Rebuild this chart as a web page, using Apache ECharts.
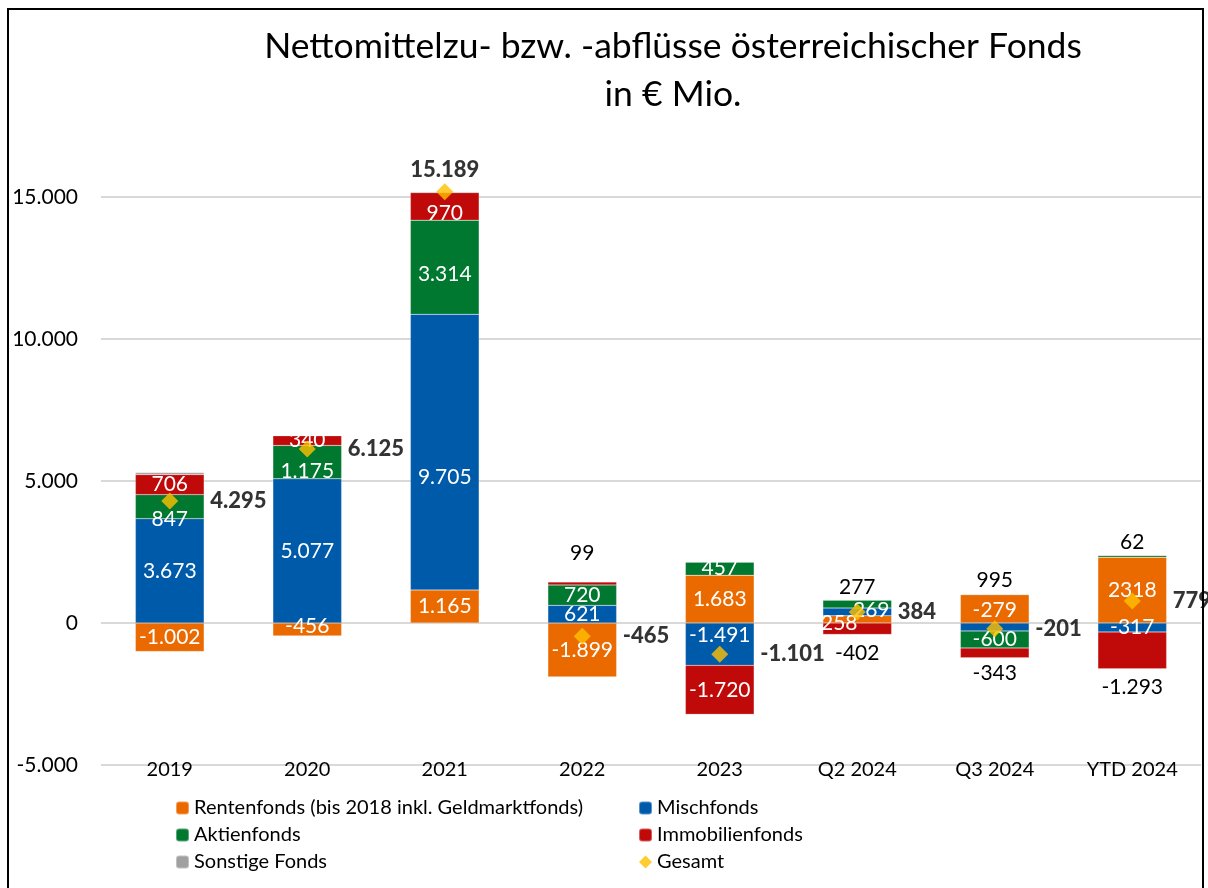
<!DOCTYPE html>
<html>
<head>
<meta charset="utf-8">
<script src="https://cdn.jsdelivr.net/npm/echarts@6/dist/echarts.min.js"></script>
<style>
  html, body { margin: 0; padding: 0; background: #fff; }
  #chart { width: 1208px; height: 888px; }
</style>
</head>
<body>
<div id="chart"></div>
<script>
const categories = ['2019', '2020', '2021', '2022', '2023', 'Q2 2024', 'Q3 2024', 'YTD 2024']
const renten = [-1002, -456, 1165, -1899, 1683, 258, 995, 2318]
const misch = [3673, 5077, 9705, 621, -1491, 269, -279, -317]
const aktien = [847, 1175, 3314, 720, 457, 277, -600, 62]
const immo = [706, 340, 970, 99, -1720, -402, -343, -1293]
const sonstige = [71, -11, 35, -6, -30, -18, 26, 9]
const gesamt = [4295, 6125, 15189, -465, -1101, 384, -201, 779]
const yTicks = { min: -5000, max: 15000, step: 5000 }

const FONT = 'Lato'

// German number format: 1.002
function fmt(v) {
  const s = String(Math.abs(v)).replace(/\B(?=(\d{3})+(?!\d))/g, '.')
  return (v < 0 ? '-' : '') + s
}

// label placement tweaks per item (mirrors manual placement in the source chart)
const outside = (position, distance) => ({ position, distance, color: '#000' })
const tweaks = {
  renten: { 1: { offset: [0, -3] }, 5: { offset: [-18, 4] }, 6: outside('top', 4), 7: { raw: true } },
  misch: { 2: { offset: [0, 25] }, 4: { offset: [0, -9] }, 5: { offset: [14, -2] }, 6: { offset: [0, -17] } },
  aktien: { 0: { offset: [0, 13] }, 1: { offset: [0, 9] }, 2: { offset: [0, 7] }, 5: outside('top', 2), 7: outside('top', 3) },
  immo: { 2: { offset: [0, 7] }, 3: outside('top', 18), 5: outside('bottom', 8), 6: outside('bottom', 5), 7: outside('bottom', 8) },
}

function items(values, tw) {
  return values.map((v, i) => {
    const t = (tw && tw[i]) || {}
    const { raw, ...rest } = t
    return {
      value: v,
      label: { formatter: raw ? String(v) : fmt(v), ...rest },
    }
  })
}

function barSeries(name, color, values, tw, showLabel = true) {
  return {
    name,
    type: 'bar',
    stack: 'total',
    barWidth: '50%',
    clip: false,
    itemStyle: { color, borderColor: 'rgba(255,255,255,0.35)', borderWidth: 0.5 },
    label: {
      show: showLabel,
      position: 'inside',
      color: '#fff',
      fontFamily: FONT,
      fontSize: 21,
    },
    data: items(values, tw),
  }
}

const chart = echarts.init(document.getElementById('chart'))
chart.setOption({
  animation: false,
  textStyle: { fontFamily: FONT },
  graphic: [
    {
      type: 'rect',
      shape: { x: 8, y: 9, width: 1195, height: 900 },
      style: { fill: 'none', stroke: '#000', lineWidth: 2 },
    },
    {
      type: 'text',
      x: 673,
      y: 47,
      style: {
        text: 'Nettomittelzu- bzw. -abflüsse österreichischer Fonds',
        font: '35.5px ' + FONT,
        fill: '#000',
        textAlign: 'center',
        textVerticalAlign: 'middle',
      },
    },
    {
      type: 'text',
      x: 673,
      y: 95,
      style: {
        text: 'in € Mio.',
        font: '35.5px ' + FONT,
        fill: '#000',
        textAlign: 'center',
        textVerticalAlign: 'middle',
      },
    },
  ],
  grid: { left: 101, right: 7, top: 197, bottom: 123 },
  legend: [
    {
      left: 170,
      top: 793,
      orient: 'vertical',
      itemWidth: 13,
      itemHeight: 13,
      itemGap: 7,
      textStyle: { fontSize: 20, color: '#000', fontFamily: FONT },
      data: ['Rentenfonds (bis 2018 inkl. Geldmarktfonds)', 'Aktienfonds', 'Sonstige Fonds'],
    },
    {
      left: 633,
      top: 793,
      orient: 'vertical',
      itemWidth: 13,
      itemHeight: 13,
      itemGap: 7,
      textStyle: { fontSize: 20, color: '#000', fontFamily: FONT },
      data: ['Mischfonds', 'Immobilienfonds', 'Gesamt'],
    },
  ],
  xAxis: {
    type: 'category',
    data: categories,
    axisLine: { show: false, onZero: false },
    axisTick: { show: false },
    axisLabel: { color: '#000', fontSize: 20, margin: 5, verticalAlign: 'middle', fontFamily: FONT },
  },
  yAxis: {
    type: 'value',
    min: yTicks.min,
    max: yTicks.max,
    interval: yTicks.step,
    axisLine: { show: false },
    axisTick: { show: false },
    axisLabel: { color: '#000', fontSize: 21, margin: 23, formatter: fmt, fontFamily: FONT },
    splitLine: { lineStyle: { color: '#d9d9d9', width: 2 } },
  },
  series: [
    barSeries('Rentenfonds (bis 2018 inkl. Geldmarktfonds)', '#EB6A00', renten, tweaks.renten),
    barSeries('Mischfonds', '#005AAA', misch, tweaks.misch),
    barSeries('Aktienfonds', '#00782F', aktien, tweaks.aktien),
    barSeries('Immobilienfonds', '#C00A0A', immo, tweaks.immo),
    barSeries('Sonstige Fonds', '#A0A0A0', sonstige, null, false),
    {
      name: 'Gesamt',
      type: 'scatter',
      symbol: 'diamond',
      symbolSize: 17,
      clip: false,
      z: 5,
      itemStyle: { color: '#FFC000' },
      label: {
        show: true,
        position: 'right',
        distance: 32,
        color: '#000',
        fontWeight: 900,
        fontSize: 22,
        fontFamily: FONT,
        formatter: (p) => fmt(p.value[1] !== undefined ? p.value[1] : p.value),
      },
      data: gesamt.map((v, i) => (i === 2
        ? { value: v, label: { position: 'top', distance: 2 } }
        : v)),
    },
  ],
})
</script>
</body>
</html>
